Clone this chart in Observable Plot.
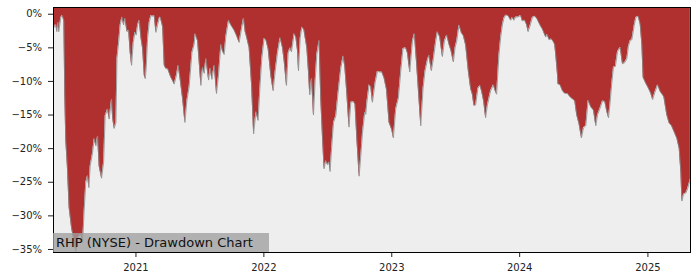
<!DOCTYPE html>
<html>
<head>
<meta charset="utf-8">
<script src="https://cdn.jsdelivr.net/npm/d3@7"></script>
<script src="https://cdn.jsdelivr.net/npm/@observablehq/plot@0.6"></script>
<style>
  html, body { margin: 0; padding: 0; background: #ffffff; }
  #wrap { position: relative; width: 700px; height: 280px; font-family: "DejaVu Sans", sans-serif; }
  #label {
    position: absolute; left: 53px; top: 233px; width: 213px; height: 19px;
    padding-left: 3px; line-height: 19px; font-size: 13px; color: #111;
    background: rgba(160,160,160,0.78); white-space: nowrap;
  }
</style>
</head>
<body>
<div id="wrap">
  <div id="chart"></div>
  <div id="label">RHP (NYSE) - Drawdown Chart</div>
</div>
<script>
// Time as fractional years
const years = [2020.359,2020.375,2020.383,2020.391,2020.398,2020.414,2020.426,2020.438,2020.445,2020.453,2020.465,2020.479,2020.498,2020.518,2020.531,2020.549,2020.570,2020.584,2020.596,2020.609,2020.623,2020.633,2020.643,2020.662,2020.674,2020.688,2020.701,2020.713,2020.732,2020.748,2020.760,2020.779,2020.791,2020.810,2020.818,2020.830,2020.844,2020.852,2020.865,2020.877,2020.891,2020.904,2020.914,2020.930,2020.943,2020.955,2020.966,2020.979,2020.992,2021.002,2021.013,2021.026,2021.039,2021.052,2021.065,2021.073,2021.080,2021.091,2021.104,2021.117,2021.130,2021.143,2021.156,2021.170,2021.182,2021.190,2021.209,2021.221,2021.234,2021.248,2021.273,2021.287,2021.299,2021.318,2021.330,2021.344,2021.365,2021.383,2021.398,2021.416,2021.438,2021.455,2021.463,2021.482,2021.492,2021.508,2021.521,2021.534,2021.547,2021.568,2021.580,2021.594,2021.612,2021.630,2021.646,2021.656,2021.664,2021.677,2021.690,2021.703,2021.724,2021.742,2021.768,2021.787,2021.807,2021.828,2021.841,2021.854,2021.865,2021.885,2021.904,2021.920,2021.938,2021.955,2021.969,2021.984,2022.002,2022.016,2022.034,2022.055,2022.073,2022.088,2022.107,2022.127,2022.146,2022.159,2022.177,2022.190,2022.205,2022.216,2022.237,2022.250,2022.263,2022.271,2022.284,2022.297,2022.313,2022.336,2022.349,2022.359,2022.373,2022.388,2022.401,2022.414,2022.432,2022.445,2022.459,2022.471,2022.484,2022.498,2022.510,2022.518,2022.531,2022.545,2022.563,2022.580,2022.602,2022.620,2022.633,2022.648,2022.666,2022.680,2022.701,2022.713,2022.727,2022.745,2022.758,2022.771,2022.789,2022.797,2022.805,2022.823,2022.836,2022.849,2022.870,2022.888,2022.906,2022.922,2022.940,2022.959,2022.979,2023.000,2023.013,2023.031,2023.052,2023.070,2023.088,2023.109,2023.123,2023.141,2023.162,2023.177,2023.193,2023.209,2023.227,2023.245,2023.260,2023.279,2023.291,2023.310,2023.326,2023.344,2023.357,2023.375,2023.396,2023.412,2023.430,2023.448,2023.463,2023.482,2023.495,2023.508,2023.526,2023.545,2023.560,2023.578,2023.599,2023.617,2023.630,2023.643,2023.656,2023.674,2023.690,2023.703,2023.719,2023.734,2023.748,2023.760,2023.773,2023.795,2023.807,2023.820,2023.838,2023.852,2023.865,2023.877,2023.891,2023.909,2023.930,2023.943,2023.955,2023.969,2023.987,2024.008,2024.021,2024.039,2024.055,2024.066,2024.080,2024.099,2024.117,2024.133,2024.151,2024.164,2024.177,2024.203,2024.215,2024.229,2024.248,2024.263,2024.273,2024.281,2024.295,2024.299,2024.315,2024.334,2024.352,2024.373,2024.393,2024.412,2024.430,2024.445,2024.463,2024.482,2024.498,2024.516,2024.534,2024.555,2024.576,2024.594,2024.607,2024.627,2024.646,2024.664,2024.680,2024.693,2024.705,2024.719,2024.732,2024.746,2024.763,2024.784,2024.802,2024.820,2024.836,2024.848,2024.862,2024.875,2024.893,2024.906,2024.924,2024.940,2024.953,2024.963,2024.984,2025.004,2025.023,2025.037,2025.055,2025.076,2025.096,2025.115,2025.125,2025.148,2025.166,2025.185,2025.205,2025.227,2025.245,2025.258,2025.266,2025.279,2025.297,2025.310,2025.323,2025.332];

// Drawdown from running peak, in percent
const drawdown = [-2.0,-1.5,-2.6,-1.2,-2.6,-0.5,-0.2,-1.0,-12,-18.8,-22.6,-28.8,-31.8,-33.8,-35.3,-33.2,-32.7,-34.0,-29.3,-25.0,-24.0,-25.8,-22.6,-20.6,-18.5,-19.6,-18.1,-22.6,-24.4,-22.0,-15.1,-14.1,-15.6,-12.6,-15.4,-17.0,-16.1,-6.6,-4.2,-1.6,-0.4,-1.6,-0.6,-2.6,-2.4,-5.7,-7.6,-4.2,-2.7,-3.1,-1.6,-0.9,-3.5,-5.1,-9.1,-9.6,-8.1,-3.6,-1.2,-0.2,-0.3,-0.2,-2.7,-1.5,-0.6,-0.4,-1.9,-7.6,-8.1,-8.1,-9.4,-9.9,-10.4,-9.0,-7.6,-9.4,-12.6,-16.1,-12.9,-10.8,-5.7,-4.5,-2.9,-4.0,-6.5,-10.6,-7.9,-8.8,-6.6,-9.8,-8.0,-9.7,-7.6,-11.8,-9.0,-6.5,-4.5,-5.5,-6.0,-3.3,-0.9,-1.6,-2.4,-3.2,-4.2,-1.9,-0.6,-2.6,-3.4,-5.0,-10.5,-17.8,-14.5,-15.8,-11,-6.6,-3.6,-3.8,-5.2,-9.2,-11.4,-8.6,-5.7,-3.5,-5.0,-7.0,-10.6,-5.8,-5.0,-5.6,-2.9,-3.4,-5.4,-8.4,-3.6,-1.9,-2.3,-5.0,-8.6,-12.0,-9.5,-15.0,-10.0,-6.0,-3.9,-12.6,-18.5,-23.0,-21.8,-22.4,-22.0,-23.4,-19.6,-16.1,-15.1,-11.8,-8.0,-6.2,-7.8,-11.6,-16.8,-13.1,-13.0,-13.4,-18.5,-24.1,-21.1,-17.7,-14.6,-14.9,-13.2,-10.5,-10.8,-13.1,-10.2,-8.5,-8.6,-8.6,-9.5,-11.2,-16.1,-17.2,-18.4,-14.1,-12.5,-8.6,-5.1,-5.0,-5.8,-8.6,-4.0,-2.9,-7.0,-11.5,-16.6,-11.0,-8.5,-6.8,-6.1,-8.4,-6.6,-4.0,-2.6,-3.4,-6.3,-4.0,-3.1,-4.5,-5.4,-7.1,-5.0,-4.0,-1.6,-2.8,-3.2,-4.6,-8.5,-11.1,-11.9,-13.6,-13.5,-11.0,-10.6,-11.5,-13.0,-15.4,-13.5,-12.5,-11.4,-10.5,-11.3,-11.9,-6.1,-3.4,-1.6,-0.6,-0.15,-0.2,-0.9,-0.5,-0.9,-0.4,-0.4,-0.2,-1.0,-0.9,-1.6,-2.6,-1.8,-0.5,-0.3,-0.6,-1.3,-1.8,-2.2,-3.4,-3.0,-3.8,-3.7,-4.1,-4.5,-5.9,-9.0,-10.4,-10.5,-11.4,-11.8,-11.8,-12.3,-12.6,-12.9,-15.0,-16.3,-18.4,-16.9,-16.6,-12.8,-13.8,-14.3,-16.6,-15.0,-14.0,-12.9,-13.0,-14.5,-15.4,-13.2,-10.2,-7.8,-7.8,-5.6,-4.9,-7.4,-7.2,-6.6,-4.8,-3.9,-3.8,-1.7,-0.5,-0.3,-1.5,-4.5,-9.4,-10.3,-11.0,-11.8,-12.7,-11.6,-10.5,-11.5,-12.0,-12.3,-15.0,-16.2,-16.6,-17.5,-18.5,-20.0,-23.6,-27.8,-26.8,-26.6,-26.0,-25.1,-24.5];

const yTicks = [0, -5, -10, -15, -20, -25, -30, -35];
const xTickYears = [2021, 2022, 2023, 2024, 2025];
const xStartYear = 2020.357;
const xEndYear = 2025.333;
const yTop = 1.0;
const yBottom = -35.45;

function fracYearToDate(fy) {
  const y = Math.floor(fy);
  const a = Date.UTC(y, 0, 1), b = Date.UTC(y + 1, 0, 1);
  return new Date(a + (fy - y) * (b - a));
}

const n = Math.min(years.length, drawdown.length);
const data = [];
for (let i = 0; i < n; i++) data.push({ date: fracYearToDate(years[i]), dd: drawdown[i] });

const fmtPct = d => d === 0 ? "0%" : "\u2212" + Math.abs(d) + "%";

const chart = Plot.plot({
  width: 700,
  height: 280,
  marginLeft: 53,
  marginRight: 10,
  marginTop: 7,
  marginBottom: 28,
  style: { fontFamily: "DejaVu Sans, sans-serif", fontSize: "10px", color: "#222", background: "#ffffff" },
  x: {
    type: "utc",
    domain: [fracYearToDate(xStartYear), fracYearToDate(xEndYear)],
    ticks: xTickYears.map(y => new Date(Date.UTC(y, 0, 1))),
    tickFormat: d => String(d.getUTCFullYear()),
    tickSize: 5,
    tickPadding: 6,
    label: null
  },
  y: {
    domain: [yBottom, yTop],
    ticks: yTicks,
    tickFormat: fmtPct,
    tickSize: 5,
    tickPadding: 6.5,
    label: null
  },
  marks: [
    Plot.frame({ fill: "#eeeeee", stroke: null }),
    Plot.areaY(data, { x: "date", y1: yTop, y2: "dd", fill: "#b02f2f", clip: true }),
    Plot.line(data, { x: "date", y: "dd", stroke: "#8c8c8c", strokeWidth: 0.8, clip: true }),
    Plot.frame({ stroke: "#000", strokeWidth: 1 })
  ]
});
document.getElementById("chart").appendChild(chart);
</script>
</body>
</html>
